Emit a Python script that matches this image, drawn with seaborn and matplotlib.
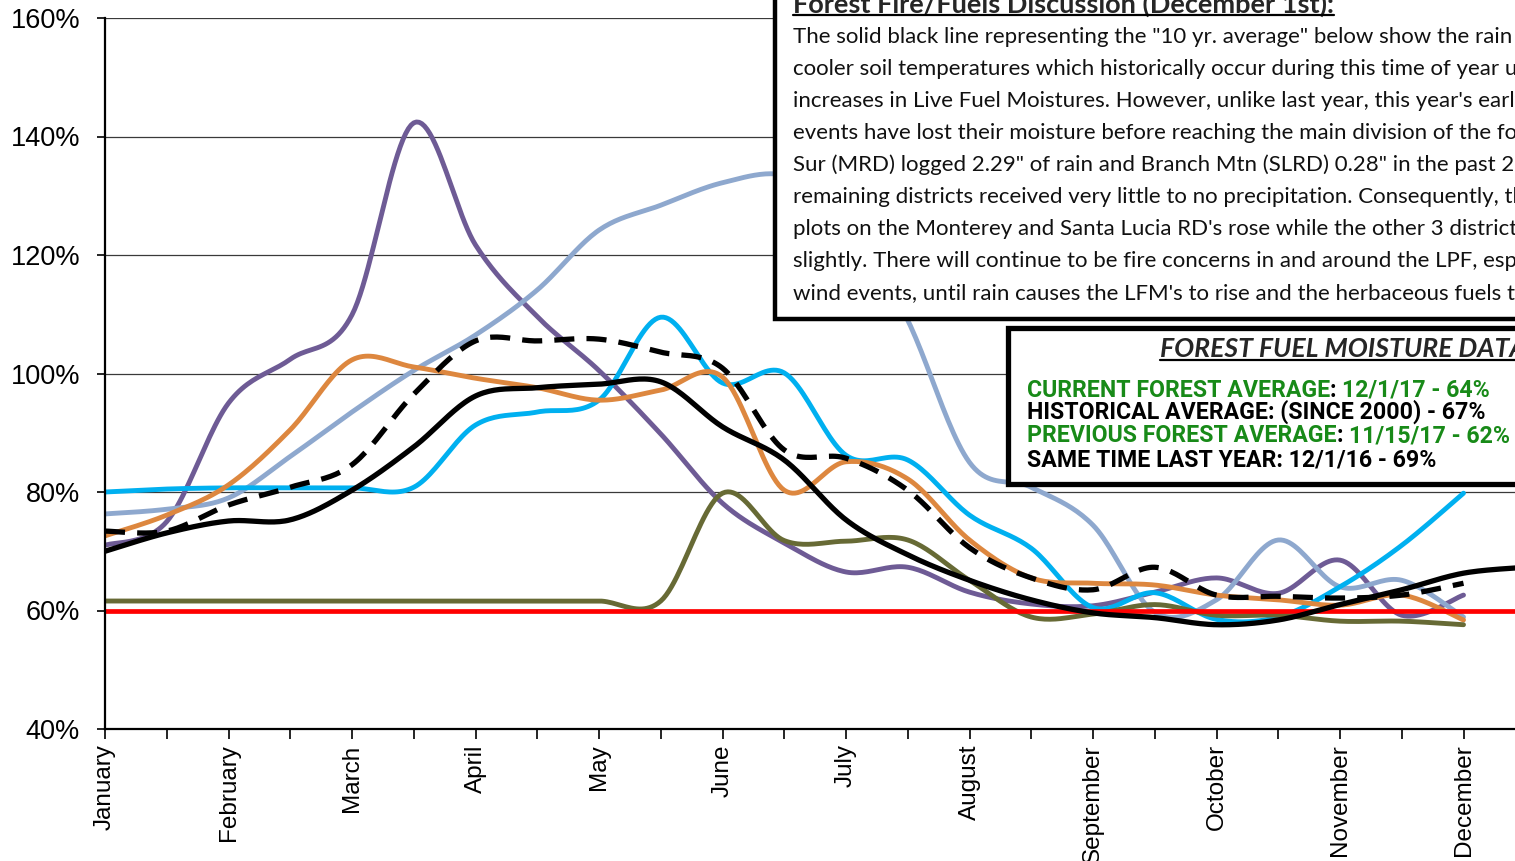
import numpy as np
import matplotlib
matplotlib.use("Agg")
import matplotlib.pyplot as plt
import seaborn as sns
from matplotlib.patches import Rectangle
from matplotlib.lines import Line2D
from matplotlib.text import Annotation
from matplotlib.ticker import FixedLocator

# ---------------- data (semi-monthly readings, index 0 = Jan 1, 1 = Jan 15, ...) ----------
months = ["January", "February", "March", "April", "May", "June", "July",
          "August", "September", "October", "November", "December"]

purple = [71.0, 75.0, 95.0, 102.4, 109.9, 142.3, 121.7, 109.6, 100.5, 89.8, 78.1, 71.4,
          66.5, 67.3, 63.1, 61.1, 60.8, 63.1, 65.5, 62.9, 68.5, 59.2, 62.6]
lightblue = [76.3, 77.1, 79.0, 86.0, 93.5, 100.5, 106.5, 114.1, 124.2, 128.4, 132.2, 133.5,
             128.0, 109.0, 85.0, 80.8, 74.4, 59.7, 61.8, 71.9, 64.0, 65.1, 58.9]
cyan = [80.0, 80.5, 80.7, 80.7, 80.7, 80.8, 91.3, 93.5, 95.5, 109.5, 98.4, 100.1,
        86.2, 85.4, 76.1, 70.5, 60.5, 63.0, 58.5, 58.9, 64.0, 71.0, 79.8]
orange = [72.6, 76.1, 81.2, 90.5, 102.3, 101.1, 99.2, 97.6, 95.5, 97.2, 99.4, 80.3,
          85.1, 82.2, 71.9, 65.5, 64.6, 64.3, 62.6, 61.8, 60.9, 62.6, 58.4]
olive = [61.6, 61.6, 61.6, 61.6, 61.6, 61.6, 61.6, 61.6, 61.6, 61.6, 79.8, 71.8,
         71.7, 71.9, 65.1, 58.9, 59.4, 61.0, 59.2, 59.2, 58.2, 58.2, 57.6]
avg10 = [70.0, 73.1, 75.1, 75.3, 80.3, 87.6, 96.2, 97.6, 98.2, 98.6, 91.0, 85.4,
         75.3, 69.4, 65.1, 61.8, 59.6, 58.8, 57.6, 58.4, 61.0, 63.5, 66.3, 67.3]
hist_dashed = [73.4, 73.4, 77.8, 80.8, 84.6, 96.5, 105.5, 105.5, 105.8, 103.6, 100.9, 87.1,
               85.7, 80.3, 70.6, 65.5, 63.5, 67.3, 62.6, 62.4, 62.1, 62.6, 64.6]
critical_level = 60

y_ticks = [40, 60, 80, 100, 120, 140, 160]

discussion_title = "Forest Fire/Fuels Discussion (December 1st):"
discussion_lines = [
    'The solid black line representing the "10 yr. average" below show the rain',
    'cooler soil temperatures which historically occur during this time of year u',
    "increases in Live Fuel Moistures. However, unlike last year, this year's early",
    'events have lost their moisture before reaching the main division of the fo',
    'Sur (MRD) logged 2.29" of rain and Branch Mtn (SLRD) 0.28" in the past 2-w',
    'remaining districts received very little to no precipitation. Consequently, th',
    "plots on the Monterey and Santa Lucia RD's rose while the other 3 districts",
    'slightly. There will continue to be fire concerns in and around the LPF, espe',
    "wind events, until rain causes the LFM's to rise and the herbaceous fuels to",
]
data_title = "FOREST FUEL MOISTURE DATA"
GREEN = "#188a18"
data_lines = [
    [("CURRENT FOREST AVERAGE", GREEN), (": ", "black"), ("12/1/17 - 64%", GREEN)],
    [("HISTORICAL AVERAGE: (SINCE 2000) - 67%", "black")],
    [("PREVIOUS FOREST AVERAGE", GREEN), (": ", "black"), ("11/15/17 - 62%", GREEN)],
    [("SAME TIME LAST YEAR: 12/1/16 - 69%", "black")],
]


# --------------- Excel-like smoothing (rendering helper) ---------------
def smooth(ys, n=24):
    xs = np.arange(len(ys), dtype=float)
    ys = np.asarray(ys, dtype=float)
    P = np.column_stack([xs, ys])
    P = np.vstack([P[0], P, P[-1]])
    out = []
    t = np.linspace(0, 1, n)[:, None]
    for i in range(1, len(P) - 2):
        p0, p1, p2, p3 = P[i - 1], P[i], P[i + 1], P[i + 2]
        c1 = p1 + (p2 - p0) / 6.0
        c2 = p2 - (p3 - p1) / 6.0
        seg = ((1 - t) ** 3) * p1 + 3 * ((1 - t) ** 2) * t * c1 + 3 * (1 - t) * t ** 2 * c2 + t ** 3 * p2
        out.append(seg if i == 1 else seg[1:])
    out = np.vstack(out)
    return out[:, 0], out[:, 1]


# --------------- figure ---------------
sns.set_style("white")
plt.rcParams["font.family"] = ["Liberation Sans", "DejaVu Sans"]

W, H = 1515, 861
fig = plt.figure(figsize=(W / 100, H / 100), dpi=100)
ax_left, ax_right, ax_top, ax_bottom = 105, 1587, 18, 729
ax = fig.add_axes([ax_left / W, 1 - ax_bottom / H, (ax_right - ax_left) / W, (ax_bottom - ax_top) / H])
ax.set_xlim(0, 24)
ax.set_ylim(40, 160)

for v in y_ticks[1:]:
    ax.axhline(v, color="#3a3a3a", lw=0.9, zorder=1)

series = [
    (purple, "#6E5B95"),
    (lightblue, "#8EA8CE"),
    (cyan, "#00B0F0"),
    (orange, "#DD873F"),
    (olive, "#676A35"),
]
for vals, col in series:
    sx, sy = smooth(vals)
    sns.lineplot(x=sx, y=sy, ax=ax, color=col, lw=3.5, sort=False, estimator=None,
                 solid_capstyle="round", zorder=3)

ax.axhline(critical_level, color="#FF0000", lw=3.4, zorder=4)

sx, sy = smooth(hist_dashed)
sns.lineplot(x=sx, y=sy, ax=ax, color="black", lw=3.8, sort=False, estimator=None,
             linestyle=(0, (3.8, 2.3)), zorder=5)
sx, sy = smooth(avg10)
sns.lineplot(x=sx, y=sy, ax=ax, color="black", lw=3.8, sort=False, estimator=None,
             solid_capstyle="round", zorder=6)

# axes styling
for s in ["top", "right"]:
    ax.spines[s].set_visible(False)
for s in ["left", "bottom"]:
    ax.spines[s].set_color("black")
    ax.spines[s].set_linewidth(1.6)
    ax.spines[s].set_zorder(7)

ax.set_yticks(y_ticks)
ax.set_yticklabels([f"{v}%" for v in y_ticks])
ax.tick_params(axis="y", direction="out", length=6, width=1.2, pad=12,
               labelsize=19.5, colors="black", left=True)
ax.xaxis.set_major_locator(FixedLocator([2 * i for i in range(len(months))]))
ax.set_xticklabels(months, rotation=90)
ax.xaxis.set_minor_locator(FixedLocator([2 * i + 1 for i in range(len(months))]))
ax.tick_params(axis="x", which="both", direction="out", length=7, width=1.2, bottom=True,
               colors="black")
ax.tick_params(axis="x", which="major", labelsize=17.5, pad=4)
ax.set_xlabel("")
ax.set_ylabel("")


# --------------- text boxes ---------------
def fx(x):
    return x / W


def fy(y):
    return 1 - y / H


box1 = Rectangle((fx(775), fy(319)), fx(1540) - fx(775), fy(-20) - fy(319),
                 transform=fig.transFigure, facecolor="white", edgecolor="black",
                 lw=3.2, zorder=10)
fig.patches.append(box1)
box2 = Rectangle((fx(1007.5), fy(483.5)), fx(1540) - fx(1007.5), fy(327.5) - fy(483.5),
                 transform=fig.transFigure, facecolor="white", edgecolor="black",
                 lw=3.8, zorder=10)
fig.patches.append(box2)

body_font = ["Lato", "DejaVu Sans"]
cond_font = ["Liberation Sans Narrow", "Roboto", "DejaVu Sans"]

fig.canvas.draw()
renderer = fig.canvas.get_renderer()


def fit(txt, target):
    w = txt.get_window_extent(renderer).width
    txt.set_fontsize(txt.get_fontsize() * target / w)


t_title = fig.text(fx(793), fy(4), discussion_title,
                   family=body_font, weight="bold", fontsize=16, va="center", ha="left",
                   zorder=11)
fit(t_title, 545)

body_texts = []
for k, line in enumerate(discussion_lines):
    t = fig.text(fx(793), fy(37 + 32 * k), line, family=body_font, fontsize=15,
                 va="center", ha="left", zorder=11, color="#111111")
    body_texts.append(t)
fit(body_texts[0], 717)
for t in body_texts[1:]:
    t.set_fontsize(body_texts[0].get_fontsize())

# box 2 title
probe = fig.text(0, 0, "FOREST FUEL MOISTURE DAT", family=body_font, weight="bold",
                 style="italic", fontsize=18)
fit(probe, 350)
fs_title2 = probe.get_fontsize()
probe.remove()
t_title2 = fig.text(fx(1160), fy(349), data_title, family=body_font, weight="bold",
                    style="italic", fontsize=fs_title2, va="center", ha="left", zorder=11)

# box 2 lines (size fitted on the single-colour line)
probe = fig.text(0, 0, data_lines[1][0][0], family=cond_font, weight="bold", fontsize=16)
fit(probe, 456)
fs_data = probe.get_fontsize()
probe.remove()

row_y = [389, 411, 434, 459]
for parts, yy in zip(data_lines, row_y):
    prev = None
    for text, col in parts:
        if prev is None:
            prev = fig.text(fx(1027), fy(yy), text, family=cond_font, weight="bold",
                            fontsize=fs_data, color=col, va="baseline", ha="left", zorder=11)
            prev.set_y(fy(yy + 8))
        else:
            ann = Annotation(text, xy=(1, 0), xycoords=prev, xytext=(0, 0),
                             textcoords="offset points", va="bottom", ha="left",
                             family=cond_font, weight="bold", fontsize=fs_data,
                             color=col, annotation_clip=False, zorder=11)
            fig.add_artist(ann)
            prev = ann

fig.canvas.draw()

# underlines
for t in (t_title, t_title2):
    bb = t.get_window_extent(renderer)
    yline = bb.y0 + 1.5
    fig.lines.append(Line2D([bb.x0, bb.x1], [yline, yline], transform=None,
                            color="black", lw=1.6, zorder=12))

fig.savefig("out.png", dpi=100)
